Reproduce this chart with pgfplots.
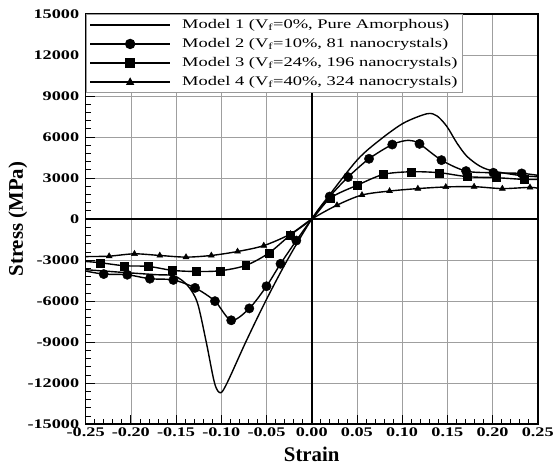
\documentclass[border=0pt]{standalone}
\usepackage{fontspec}
\setmainfont{Liberation Serif}
\newfontfamily\tickfont[FakeStretch=1.38]{Liberation Serif}
\newfontfamily\legfont[FakeStretch=1.4]{Liberation Serif}
\usepackage{pgfplots}
\pgfplotsset{compat=1.18}
\begin{document}
\begin{tikzpicture}
\begin{axis}[
  scale only axis, width=454bp, height=412bp,
  xmin=-0.25, xmax=0.25, ymin=-15000, ymax=15000,
  xtick={-0.25,-0.20,-0.15,-0.10,-0.05,0,0.05,0.10,0.15,0.20,0.25},
  ytick={-15000,-12000,-9000,-6000,-3000,0,3000,6000,9000,12000,15000},
  scaled y ticks=false, scaled x ticks=false,
  minor x tick num=4, minor y tick num=4,
  tick pos=left, tick align=inside,
  major tick length=9bp, minor tick length=5bp,
  every tick/.style={black, line width=0.8bp},
  grid=major, major grid style={gray!75, line width=0.7bp},
  axis line style={line width=1.6bp},
  xticklabel style={/pgf/number format/fixed, /pgf/number format/fixed zerofill, /pgf/number format/precision=2, /pgf/number format/assume math mode=true},
  yticklabel style={xshift=-3bp, /pgf/number format/fixed, /pgf/number format/set thousands separator={}, /pgf/number format/assume math mode=true},
  tick label style={font=\tickfont\bfseries\fontsize{13.3}{14}\selectfont},
  extra x ticks={0}, extra y ticks={0},
  extra x tick labels={}, extra y tick labels={},
  extra tick style={grid=major, grid style={black, line width=1.6bp}, major grid style={black, line width=1.6bp}, major tick length=0pt},
  xlabel={Strain}, ylabel={Stress (MPa)},
  label style={font=\bfseries\fontsize{21}{22}\selectfont},
  xlabel style={at={(axis description cs:0.5,-0.073)}, anchor=center},
  ylabel style={at={(axis description cs:-0.1498,0.5)}, anchor=center},
  legend style={at={(0,1)}, anchor=north west, xshift=0.5bp, yshift=-0.5bp,
    draw=gray!80, line width=0.9bp, fill=white,
    font=\legfont\fontsize{13.3}{14}\selectfont,
    inner xsep=3bp, inner ysep=2bp, row sep=3.2bp,
    /tikz/every odd column/.append style={column sep=10bp},
    nodes={inner sep=1.5bp, text height=10bp, text depth=3bp}},
  legend cell align=left,
]
% Model 1
\addplot[black, line width=1.4bp, smooth, tension=0.5,
  legend image code/.code={\draw[black,line width=1.5bp] (0bp,0bp)--(80bp,0bp);}]
coordinates {(-0.25,-3700) (-0.204,-3920) (-0.171,-4070) (-0.152,-4150) (-0.1375,-4840) (-0.1265,-6100) (-0.1166,-9000) (-0.1074,-12000) (-0.1008,-12700) (-0.093,-11900) (-0.073,-9000) (-0.051,-6000) (-0.027,-3000) (0,0) (0.0188,1690) (0.0508,4360) (0.0758,5810) (0.1016,7020) (0.1274,7700) (0.1384,7550) (0.1494,6780) (0.1605,5570) (0.1715,4600) (0.186,3870) (0.201,3510) (0.2303,3190) (0.25,3100)};
\addlegendentry{Model 1 (V\textsubscript{f}=0\%, Pure Amorphous)}
% Model 2
\addplot[black, line width=1.4bp, smooth, tension=0.5,
  legend image code/.code={\draw[black,line width=1.5bp] (0bp,0bp)--(80bp,0bp); \fill[black] (40bp,0bp) circle (4.5bp);}]
coordinates {(-0.25,-3800) (-0.230,-4020) (-0.204,-4070) (-0.179,-4360) (-0.153,-4450) (-0.129,-5030) (-0.107,-6000) (-0.089,-7400) (-0.069,-6530) (-0.050,-4910) (-0.0345,-3270) (-0.017,-1570) (0,0) (0.0199,1650) (0.0402,3070) (0.0634,4410) (0.0891,5450) (0.107,5760) (0.1192,5500) (0.1435,4310) (0.1707,3510) (0.2009,3390) (0.2322,3340) (0.25,3200)};
\addlegendentry{Model 2 (V\textsubscript{f}=10\%, 81 nanocrystals)}
\addplot[black, only marks, mark=*, mark size=4.7bp, forget plot]
coordinates {(-0.230,-4020) (-0.204,-4070) (-0.179,-4360) (-0.153,-4450) (-0.129,-5030) (-0.107,-6000) (-0.089,-7400) (-0.069,-6530) (-0.050,-4910) (-0.0345,-3270) (-0.017,-1570) (0.0199,1650) (0.0402,3070) (0.0634,4410) (0.0891,5450) (0.1192,5500) (0.1435,4310) (0.1707,3510) (0.2009,3390) (0.2322,3340)};
% Model 3
\addplot[black, line width=1.4bp, smooth, tension=0.5,
  legend image code/.code={\draw[black,line width=1.5bp] (0bp,0bp)--(80bp,0bp); \fill[black] (36bp,-4bp) rectangle (44bp,4bp);}]
coordinates {(-0.25,-3100) (-0.234,-3190) (-0.2075,-3410) (-0.1806,-3460) (-0.154,-3750) (-0.128,-3830) (-0.1015,-3780) (-0.073,-3390) (-0.0475,-2490) (-0.0235,-1160) (0,0) (0.021,1550) (0.0508,2490) (0.0795,3270) (0.110,3460) (0.1413,3390) (0.1722,3100) (0.2035,3030) (0.2348,2900) (0.25,2900)};
\addlegendentry{Model 3 (V\textsubscript{f}=24\%, 196 nanocrystals)}
\addplot[black, only marks, mark=square*, mark size=4bp, forget plot]
coordinates {(-0.234,-3190) (-0.2075,-3410) (-0.1806,-3460) (-0.154,-3750) (-0.128,-3830) (-0.1015,-3780) (-0.073,-3390) (-0.0475,-2490) (-0.0235,-1160) (0.021,1550) (0.0508,2490) (0.0795,3270) (0.110,3460) (0.1413,3390) (0.1722,3100) (0.2035,3030) (0.2348,2900)};
% Model 4
\addplot[black, line width=1.4bp, smooth, tension=0.5,
  legend image code/.code={\draw[black,line width=1.5bp] (0bp,0bp)--(80bp,0bp); \fill[black] (40bp,3.5bp) -- (43bp,-2bp) -- (37bp,-2bp) -- cycle;}]
coordinates {(-0.25,-2740) (-0.224,-2710) (-0.196,-2540) (-0.168,-2660) (-0.139,-2780) (-0.111,-2660) (-0.082,-2370) (-0.053,-1940) (-0.0235,-1090) (0,0) (0.028,1020) (0.0556,1760) (0.0861,2050) (0.1174,2230) (0.1483,2350) (0.1796,2370) (0.2108,2230) (0.2414,2320) (0.25,2250)};
\addlegendentry{Model 4 (V\textsubscript{f}=40\%, 324 nanocrystals)}
\addplot[black, only marks, mark=triangle*, mark size=3.5bp, forget plot]
coordinates {(-0.224,-2710) (-0.196,-2540) (-0.168,-2660) (-0.139,-2780) (-0.111,-2660) (-0.082,-2370) (-0.053,-1940) (-0.0235,-1090) (0.028,1020) (0.0556,1760) (0.0861,2050) (0.1174,2230) (0.1483,2350) (0.1796,2370) (0.2108,2230) (0.2414,2320)};
\end{axis}
\path (current axis.south west) ++(-86bp,-43bp);
\path (current axis.south west) ++(471bp,426bp);
\end{tikzpicture}
\end{document}
